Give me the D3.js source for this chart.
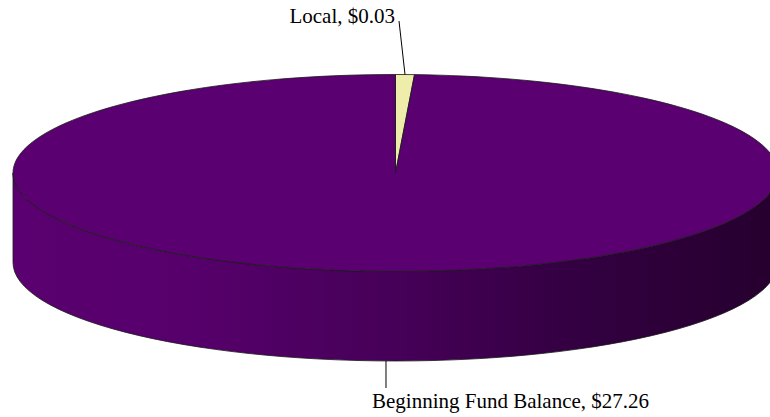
<!DOCTYPE html>
<html><head><meta charset="utf-8">
<script src="https://cdn.jsdelivr.net/npm/d3@7"></script>
<style>html,body{margin:0;padding:0;background:#fff;overflow:hidden}</style>
</head><body>
<svg id="c" width="770" height="417"></svg>
<script>
const categories = ["Local", "Beginning Fund Balance"];
const values = [0.03, 27.26];
const labels = ["Local, $0.03", "Beginning Fund Balance, $27.26"];
const colors = ["#eeeeaa", "#5a0070"];

const W = 770, H = 417;
const cx = 395.5, cy = 173, rx = 382.5, ry = 98.5, depth = 89.5;
const minAngle = 2.85 * Math.PI / 180;

const svg = d3.select("#c");
const defs = svg.append("defs");
const grad = defs.append("linearGradient").attr("id", "side")
  .attr("gradientUnits", "userSpaceOnUse")
  .attr("x1", cx - rx).attr("x2", cx + rx).attr("y1", 0).attr("y2", 0);
[[0, "#5a0070"], [0.22, "#57006c"], [0.5, "#460058"], [0.75, "#320040"], [1, "#26002e"]]
  .forEach(([o, c]) => grad.append("stop").attr("offset", o).attr("stop-color", c));

const arcs = d3.pie().sort(null).startAngle(0).endAngle(2 * Math.PI)(values);
// enforce a minimum visible angle for tiny slices
let shift = 0;
arcs.forEach(a => {
  a.startAngle += shift;
  if (a.endAngle + shift - a.startAngle < minAngle) {
    const extra = minAngle - (a.endAngle + shift - a.startAngle);
    shift += extra;
  }
  a.endAngle += shift;
});
const total = arcs[arcs.length - 1].endAngle;
arcs.forEach(a => { a.startAngle *= 2 * Math.PI / total; a.endAngle *= 2 * Math.PI / total; });
// re-apply exact min for first tiny slice
arcs[0].endAngle = Math.max(arcs[0].endAngle, minAngle); arcs[1].startAngle = arcs[0].endAngle;
arcs[arcs.length - 1].endAngle = 2 * Math.PI;

const px = a => cx + rx * Math.sin(a);
const py = a => cy - ry * Math.cos(a);

// sides (front half only: angles pi/2 .. 3pi/2)
arcs.forEach((a, i) => {
  const s = Math.max(a.startAngle, Math.PI / 2), e = Math.min(a.endAngle, 3 * Math.PI / 2);
  if (e <= s) return;
  const large = (e - s) > Math.PI ? 1 : 0;
  const d = `M${px(s)},${py(s)} A${rx},${ry} 0 ${large} 1 ${px(e)},${py(e)}` +
    ` L${px(e)},${py(e) + depth} A${rx},${ry} 0 ${large} 0 ${px(s)},${py(s) + depth} Z`;
  svg.append("path").attr("d", d)
    .attr("fill", i === 1 ? "url(#side)" : colors[i])
    .attr("stroke", "#1a1a1a").attr("stroke-width", 0.8);
});

// top
const arcGen = d3.arc().innerRadius(0).outerRadius(rx);
svg.append("g").attr("transform", `translate(${cx},${cy}) scale(1,${ry / rx})`)
  .selectAll("path").data(arcs).join("path")
  .attr("d", arcGen)
  .attr("fill", (d, i) => colors[i])
  .attr("stroke", "#1a1a1a").attr("stroke-width", 0.8)
  .attr("vector-effect", "non-scaling-stroke");

// labels and leader lines
const font = "'Liberation Serif','Times New Roman',serif";
// Local (top)
{
  const m = (arcs[0].startAngle + arcs[0].endAngle) / 2;
  const x0 = px(m), y0 = py(m);
  svg.append("line").attr("x1", x0).attr("y1", y0).attr("x2", 399).attr("y2", 21)
    .attr("stroke", "#000").attr("stroke-width", 1);
  svg.append("text").attr("x", 395).attr("y", 23).attr("text-anchor", "end")
    .attr("font-family", font).attr("font-size", 21).attr("fill", "#000").text(labels[0]);
}
// Beginning Fund Balance (bottom)
{
  const m = (arcs[1].startAngle + arcs[1].endAngle) / 2;
  const x0 = px(m), y0 = py(m) + depth;
  svg.append("line").attr("x1", x0).attr("y1", y0).attr("x2", x0).attr("y2", 388)
    .attr("stroke", "#000").attr("stroke-width", 1);
  svg.append("text").attr("x", 372).attr("y", 408).attr("text-anchor", "start")
    .attr("font-family", font).attr("font-size", 21).attr("fill", "#000").text(labels[1]);
}
</script>
</body></html>
